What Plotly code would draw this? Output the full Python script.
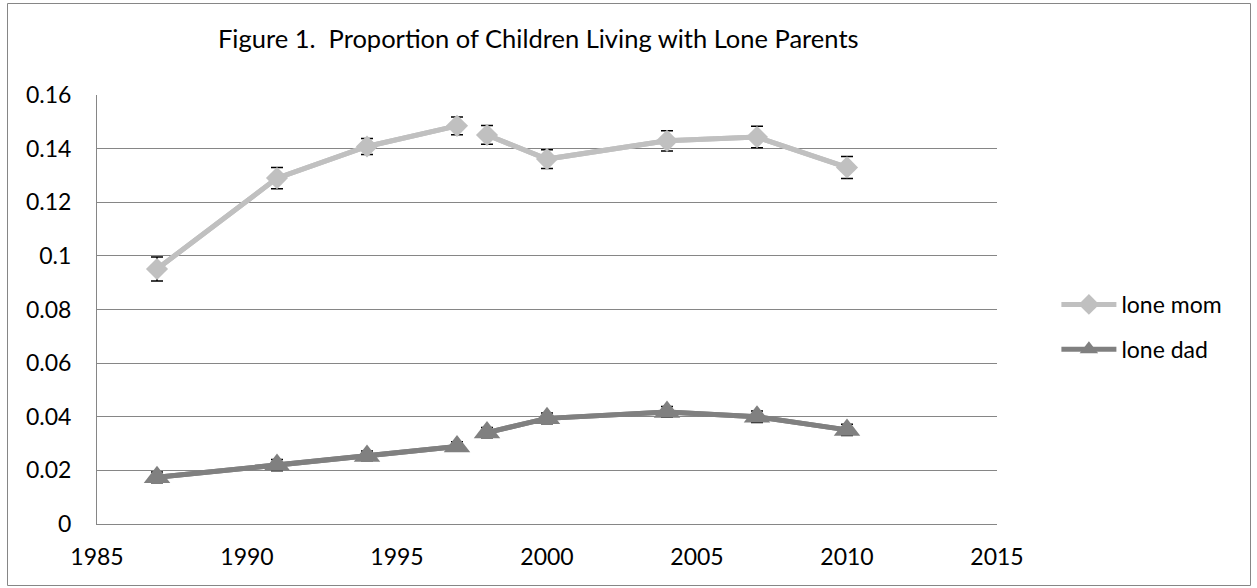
import plotly.graph_objects as go

years = [1987, 1991, 1994, 1997, 1998, 2000, 2004, 2007, 2010]
lone_mom = [0.0951, 0.1290, 0.1408, 0.1485, 0.1451, 0.1361, 0.1429, 0.1443, 0.1330]
lone_mom_err = [0.0045, 0.0040, 0.0030, 0.0033, 0.0035, 0.0035, 0.0038, 0.0040, 0.0041]
lone_dad = [0.0174, 0.0220, 0.0254, 0.0289, 0.0341, 0.0394, 0.0418, 0.0400, 0.0351]
lone_dad_err = [0.0020, 0.0021, 0.0018, 0.0018, 0.0019, 0.0020, 0.0020, 0.0021, 0.0021]
# The series break between the two survey periods (1997 | 1998)
segments = [(0, 4), (4, 9)]

x_ticks = [1985, 1990, 1995, 2000, 2005, 2010, 2015]
y_ticks = [0, 0.02, 0.04, 0.06, 0.08, 0.1, 0.12, 0.14, 0.16]
y_tick_text = ["0", "0.02", "0.04", "0.06", "0.08", "0.1", "0.12", "0.14", "0.16"]

FONT = "Lato, Carlito, Calibri, sans-serif"

series = [
    ("lone mom", lone_mom, lone_mom_err, "#C0C0C0", "diamond", 17),
    ("lone dad", lone_dad, lone_dad_err, "#808080", "triangle-up", 23),
]

fig = go.Figure()
for name, vals, errs, color, sym, msize in series:
    for k, (a, b) in enumerate(segments):
        # line + error bars underneath
        fig.add_trace(go.Scatter(
            x=years[a:b], y=vals[a:b],
            mode="lines",
            name=name, legendgroup=name, showlegend=False,
            line=dict(color=color, width=5),
            error_y=dict(type="data", array=errs[a:b], visible=True,
                         color="black", thickness=1.5, width=6),
            hoverinfo="skip",
        ))
        # markers on top
        fig.add_trace(go.Scatter(
            x=years[a:b], y=vals[a:b],
            mode="lines+markers",
            name=name, legendgroup=name, showlegend=(k == 0),
            line=dict(color=color, width=5),
            marker=dict(symbol=sym, size=msize, color=color, line=dict(width=0)),
        ))

fig.update_layout(
    width=1257, height=588,
    paper_bgcolor="white", plot_bgcolor="white",
    margin=dict(l=97, r=260, t=95, b=64),
    font=dict(family=FONT, size=23, color="black"),
    showlegend=True,
    legend=dict(x=1.066, y=(524 - 327) / 429, xanchor="left", yanchor="middle",
                bgcolor="rgba(0,0,0,0)", itemwidth=55,
                font=dict(family=FONT, size=23), tracegroupgap=12),
    annotations=[dict(text="Figure 1.  Proportion of Children Living with Lone Parents",
                      xref="paper", yref="paper", x=(538 - 97) / 900, y=1.0 + (95 - 38) / 429,
                      xanchor="center", yanchor="middle", showarrow=False,
                      font=dict(family=FONT, size=25.5, color="black"))],
    shapes=[dict(type="rect", xref="paper", yref="paper",
                 x0=(7.5 - 97) / 900, x1=(1250.5 - 97) / 900,
                 y0=(524 - 585.5) / 429, y1=(524 - 3.5) / 429,
                 line=dict(color="#868686", width=1), fillcolor="rgba(0,0,0,0)",
                 layer="below")],
)
fig.update_xaxes(range=[1985, 2015], tickvals=x_ticks, ticks="", showgrid=False,
                 showline=True, linecolor="#868686", linewidth=1, zeroline=False,
                 ticklabelstandoff=12, tickfont=dict(size=23))
fig.update_yaxes(range=[0, 0.16], tickvals=y_ticks, ticktext=y_tick_text, ticks="",
                 showgrid=True, gridcolor="#868686", gridwidth=1,
                 showline=True, linecolor="#868686", linewidth=1, zeroline=False,
                 ticklabelstandoff=20, tickfont=dict(size=23))

fig.write_html("out.html", config={"displayModeBar": False},
               post_script="document.body.style.margin='0px';")
